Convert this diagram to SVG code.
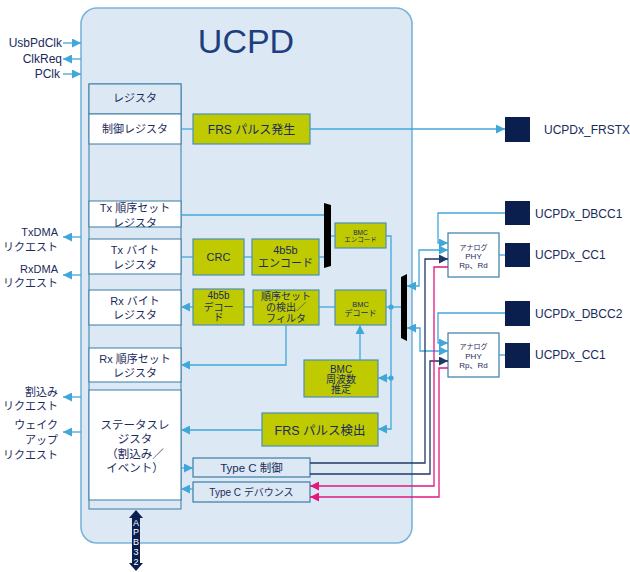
<svg xmlns="http://www.w3.org/2000/svg" width="630" height="572" viewBox="0 0 630 572">
<defs>
<style>
text{font-family:"Liberation Sans","Noto Sans CJK JP",sans-serif;fill:#1a2b5c;}
.c{text-anchor:middle}
.r{text-anchor:end}
.main{fill:#dce9f5;stroke:#7ab3da;stroke-width:1.6}
.col{fill:#dce9f5;stroke:#3a7ca5;stroke-width:1}
.reg{fill:#ffffff;stroke:#3a7ca5;stroke-width:1}
.yb{fill:#bfca00;stroke:#4a90b8;stroke-width:1.2}
.lb{fill:#dce9f5;stroke:#3a7ca5;stroke-width:1.2}
.phy{fill:#ffffff;stroke:#3a7ca5;stroke-width:1.2}
.sq{fill:#0b1f4f}
.w{fill:none;stroke:#41a6da;stroke-width:1.3}
.n{fill:none;stroke:#1f3864;stroke-width:1.3}
.p{fill:none;stroke:#e0187f;stroke-width:1.3}
.bar{fill:#000000}
</style>
<marker id="aw" viewBox="0 0 10 10" refX="10" refY="5" markerWidth="9" markerHeight="9" markerUnits="userSpaceOnUse" orient="auto-start-reverse"><path d="M0,0L10,5L0,10z" fill="#41a6da"/></marker>
<marker id="an" viewBox="0 0 10 10" refX="10" refY="5" markerWidth="9" markerHeight="9" markerUnits="userSpaceOnUse" orient="auto-start-reverse"><path d="M0,0L10,5L0,10z" fill="#1f3864"/></marker>
<marker id="ap" viewBox="0 0 10 10" refX="10" refY="5" markerWidth="9" markerHeight="9" markerUnits="userSpaceOnUse" orient="auto-start-reverse"><path d="M0,0L10,5L0,10z" fill="#e0187f"/></marker>
</defs>

<g id="ucpd">
<rect class="main" x="81" y="8" width="331" height="535" rx="16"/>
<text class="c" x="246" y="53" style="font-size:34px;fill:#1d3f80">UCPD</text>
</g>

<g id="register-column">
<rect class="col" x="89" y="84" width="92" height="425"/>
<rect class="col" x="89" y="84" width="92" height="30"/>
<text class="c" x="135" y="102" style="font-size:11px">レジスタ</text>
</g>
<g id="ctrl-reg"><rect class="reg" x="89" y="114" width="92" height="30"/><text class="c" x="135" y="133" style="font-size:11px">制御レジスタ</text></g>
<g id="tx-os-reg"><rect class="reg" x="89" y="201" width="92" height="26"/><text class="c" x="135" y="212" style="font-size:11px">Tx 順序セット</text><text class="c" x="135" y="227" style="font-size:11px">レジスタ</text></g>
<g id="tx-byte-reg"><rect class="reg" x="89" y="239" width="92" height="35"/><text class="c" x="135" y="254" style="font-size:11px">Tx バイト</text><text class="c" x="135" y="269" style="font-size:11px">レジスタ</text></g>
<g id="rx-byte-reg"><rect class="reg" x="89" y="290" width="92" height="35"/><text class="c" x="135" y="305" style="font-size:11px">Rx バイト</text><text class="c" x="135" y="319" style="font-size:11px">レジスタ</text></g>
<g id="rx-os-reg"><rect class="reg" x="89" y="348" width="92" height="34"/><text class="c" x="135" y="363" style="font-size:11px">Rx 順序セット</text><text class="c" x="135" y="377" style="font-size:11px">レジスタ</text></g>
<g id="status-reg"><rect class="reg" x="89" y="390" width="92" height="110"/>
<text class="c" x="135" y="429" style="font-size:11.5px">ステータスレ</text>
<text class="c" x="135" y="443" style="font-size:11.5px">ジスタ</text>
<text class="c" x="135" y="458" style="font-size:11.5px">（割込み／</text>
<text class="c" x="135" y="472" style="font-size:11.5px">イベント）</text></g>

<g id="frs-gen"><rect class="yb" x="193" y="114" width="117" height="30"/><text class="c" x="251.5" y="133.5" style="font-size:12px">FRS パルス発生</text></g>
<g id="crc"><rect class="yb" x="193" y="239" width="51" height="36"/><text class="c" x="218.5" y="261" style="font-size:11px">CRC</text></g>
<g id="enc4b5b"><rect class="yb" x="252" y="239" width="67" height="36"/><text class="c" x="285.5" y="254" style="font-size:11px">4b5b</text><text class="c" x="285.5" y="267" style="font-size:11px">エンコード</text></g>
<g id="bmc-enc"><rect class="yb" x="335" y="223" width="51" height="25"/><text class="c" x="360.5" y="234.5" style="font-size:6.5px">BMC</text><text class="c" x="360.5" y="242" style="font-size:6.5px">エンコード</text></g>
<g id="dec4b5b"><rect class="yb" x="193" y="289" width="51" height="36"/><text class="c" x="218.5" y="299" style="font-size:10px">4b5b</text><text class="c" x="218.5" y="311" style="font-size:10px">デコー</text><text class="c" x="218.5" y="321" style="font-size:10px">ド</text></g>
<g id="os-detect"><rect class="yb" x="253" y="290" width="66" height="35"/><text class="c" x="286" y="300" style="font-size:10px">順序セット</text><text class="c" x="286" y="311" style="font-size:10px">の検出／</text><text class="c" x="286" y="322" style="font-size:10px">フィルタ</text></g>
<g id="bmc-dec"><rect class="yb" x="335" y="290" width="51" height="35"/><text class="c" x="360.5" y="306.5" style="font-size:7.5px">BMC</text><text class="c" x="360.5" y="316" style="font-size:8px">デコード</text></g>
<g id="bmc-freq"><rect class="yb" x="304" y="360" width="74" height="37"/><text class="c" x="341" y="372.5" style="font-size:10px">BMC</text><text class="c" x="341" y="382.5" style="font-size:10px">周波数</text><text class="c" x="341" y="392.5" style="font-size:10px">推定</text></g>
<g id="frs-det"><rect class="yb" x="262" y="413" width="116" height="33"/><text class="c" x="320" y="434.5" style="font-size:12.5px">FRS パルス検出</text></g>
<g id="typec-ctrl"><rect class="lb" x="193" y="458" width="117" height="19"/><text class="c" x="251.5" y="471.5" style="font-size:11.5px">Type C 制御</text></g>
<g id="typec-deb"><rect class="lb" x="193" y="482" width="117" height="20"/><text class="c" x="251.5" y="495.5" style="font-size:10px">Type C デバウンス</text></g>

<g id="mux1"><polygon class="bar" points="324,203 331,205 331,266 324,268"/></g>
<g id="mux2"><polygon class="bar" points="401,277 407,274 407,341 401,338"/></g>

<g id="phy1"><rect class="phy" x="448" y="233" width="51" height="44"/><text class="c" x="473.5" y="250" style="font-size:7px">アナログ</text><text class="c" x="473.5" y="258.5" style="font-size:8px">PHY</text><text class="c" x="473.5" y="267.5" style="font-size:8px">Rp、Rd</text></g>
<g id="phy2"><rect class="phy" x="448" y="333" width="51" height="44"/><text class="c" x="473.5" y="349" style="font-size:7px">アナログ</text><text class="c" x="473.5" y="358.5" style="font-size:8px">PHY</text><text class="c" x="473.5" y="368" style="font-size:8px">Rp、Rd</text></g>

<g id="pin-frstx"><rect class="sq" x="505" y="117" width="25" height="25"/><text x="544" y="134" style="font-size:12px">UCPDx_FRSTX</text></g>
<g id="pin-dbcc1"><rect class="sq" x="505" y="201" width="25" height="24"/><text x="535" y="218" style="font-size:12px">UCPDx_DBCC1</text></g>
<g id="pin-cc1a"><rect class="sq" x="505" y="243" width="25" height="24"/><text x="535" y="259" style="font-size:12px">UCPDx_CC1</text></g>
<g id="pin-dbcc2"><rect class="sq" x="505" y="301" width="25" height="25"/><text x="535" y="318" style="font-size:12px">UCPDx_DBCC2</text></g>
<g id="pin-cc1b"><rect class="sq" x="505" y="343" width="25" height="25"/><text x="535" y="359" style="font-size:12px">UCPDx_CC1</text></g>

<g id="left-labels">
<text class="r" x="62" y="47" style="font-size:12px">UsbPdClk</text>
<text class="r" x="62" y="63" style="font-size:12px">ClkReq</text>
<text class="r" x="60" y="78" style="font-size:12px">PClk</text>
<text class="r" x="58" y="236" style="font-size:11px">TxDMA</text>
<text class="r" x="58" y="251" style="font-size:11px">リクエスト</text>
<text class="r" x="58" y="273" style="font-size:11px">RxDMA</text>
<text class="r" x="58" y="287" style="font-size:11px">リクエスト</text>
<text class="r" x="58" y="396" style="font-size:11px">割込み</text>
<text class="r" x="58" y="410" style="font-size:11px">リクエスト</text>
<text class="r" x="58" y="429" style="font-size:11px">ウェイク</text>
<text class="r" x="58" y="444" style="font-size:11px">アップ</text>
<text class="r" x="58" y="459" style="font-size:11px">リクエスト</text>
</g>

<g id="apb">
<polygon points="136,510 143,518 140,518 140,563 143,563 136,571 129,563 132,563 132,518 129,518" fill="#0b1f4f"/>
<text class="c" x="136" y="526" style="font-size:9px;fill:#ffffff">A</text>
<text class="c" x="136" y="535" style="font-size:9px;fill:#ffffff">P</text>
<text class="c" x="136" y="545" style="font-size:9px;fill:#ffffff">B</text>
<text class="c" x="136" y="555" style="font-size:9px;fill:#ffffff">3</text>
<text class="c" x="136" y="565" style="font-size:9px;fill:#ffffff">2</text>
</g>

<g id="connectors">
<path class="w" d="M63,43H81" marker-end="url(#aw)"/>
<path class="w" d="M81,59H63" marker-end="url(#aw)"/>
<path class="w" d="M63,74H81" marker-end="url(#aw)"/>
<path class="w" d="M81,237H63" marker-end="url(#aw)"/>
<path class="w" d="M81,275H63" marker-end="url(#aw)"/>
<path class="w" d="M81,397H63" marker-end="url(#aw)"/>
<path class="w" d="M81,432H63" marker-end="url(#aw)"/>
<path class="w" d="M181,129H193"/>
<path class="w" d="M310,129H505" marker-end="url(#aw)"/>
<path class="w" d="M181,215H324"/>
<path class="w" d="M181,257H193"/>
<path class="w" d="M244,257H252"/>
<path class="w" d="M319,257H324"/>
<path class="w" d="M331,236H335"/>
<path class="w" d="M386,236H391V429H378" marker-end="url(#aw)"/>
<path class="w" d="M391,378H378" marker-end="url(#aw)"/>
<path class="w" d="M386,307H401"/>
<path class="w" d="M335,307H319"/>
<path class="w" d="M253,307H244"/>
<path class="w" d="M193,307H181" marker-end="url(#aw)"/>
<path class="w" d="M286,325V365H181" marker-end="url(#aw)"/>
<path class="w" d="M360,360V325" marker-end="url(#aw)"/>
<path class="w" d="M262,430H181" marker-end="url(#aw)"/>
<path class="w" d="M181,468H193" marker-end="url(#aw)"/>
<path class="w" d="M193,489H181" marker-end="url(#aw)"/>
<circle cx="391" cy="307" r="2.6" fill="#41a6da"/>
<circle cx="391" cy="378" r="2.6" fill="#41a6da"/>
<path class="w" d="M407,286H419V250H448" marker-start="url(#aw)" marker-end="url(#aw)"/>
<path class="w" d="M407,328H420V351H448" marker-start="url(#aw)" marker-end="url(#aw)"/>
<path class="w" d="M505,213H438V243H448" marker-end="url(#aw)"/>
<path class="w" d="M505,313H438V343H448" marker-end="url(#aw)"/>
<path class="w" d="M499,255H505"/>
<path class="w" d="M499,355H505"/>
<path class="n" d="M310,463H425V259H448" marker-end="url(#an)"/>
<path class="n" d="M310,474H430V361H448" marker-end="url(#an)"/>
<path class="p" d="M448,267H434V486H310" marker-end="url(#ap)"/>
<path class="p" d="M448,368H439V497H310" marker-end="url(#ap)"/>
</g>
</svg>
